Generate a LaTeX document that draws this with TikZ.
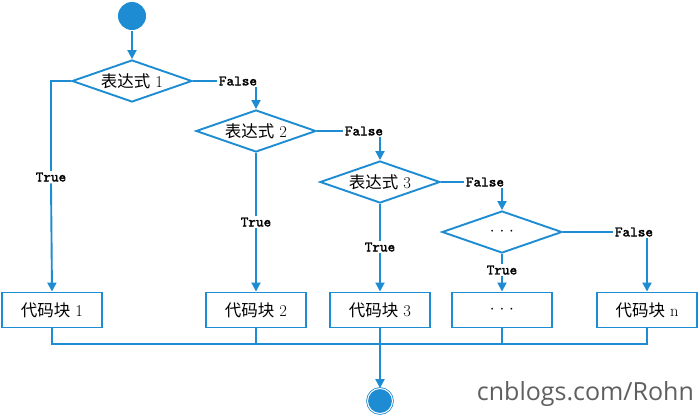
\documentclass[tikz,border=0pt]{standalone}
\usepackage{fontspec}
\newfontfamily\cjk{Noto Sans CJK SC}
\newfontfamily\markfont{Open Sans}
\newfontfamily\monofont{lmmono10-regular.otf}[FakeBold=2]
\usetikzlibrary{arrows.meta,shapes.geometric}
\definecolor{flowblue}{RGB}{30,140,210}
\definecolor{markgray}{RGB}{95,95,95}

\begin{document}
\begin{tikzpicture}[x=1pt,y=-1pt,line width=1.9pt,
  every node/.style={font=\fontsize{16.5}{18}\selectfont},
  cond/.style={diamond,draw=flowblue,aspect=2.86,minimum width=120pt,minimum height=42pt,inner sep=1pt},
  block/.style={rectangle,draw=flowblue,minimum width=100pt,minimum height=35pt,inner sep=1pt},
  lbl/.style={font=\monofont\fontsize{14.5}{16}\selectfont,inner sep=1pt},
  flow/.style={draw=flowblue,-{Triangle[length=9pt,width=9pt]}},
  link/.style={draw=flowblue}]
\useasboundingbox (0,0) rectangle (700,416);
\node[circle,fill=flowblue,minimum size=28pt,inner sep=0] (start) at (132,16) {};
\node[cond] (c1) at (132,81) {{\cjk 表达式} 1};
\node[cond] (c2) at (256,131) {{\cjk 表达式} 2};
\node[cond] (c3) at (380,182) {{\cjk 表达式} 3};
\node[cond] (c4) at (502,232) {$\cdot\kern1pt\cdot\kern1pt\cdot$};
\node[block] (b1) at (52,310) {{\cjk 代码块} 1};
\node[block] (b2) at (256,310) {{\cjk 代码块} 2};
\node[block] (b3) at (380,310) {{\cjk 代码块} 3};
\node[block] (b4) at (502,310) {$\cdot\kern1pt\cdot\kern1pt\cdot$};
\node[block] (bn) at (647,310) {{\cjk 代码块} n};
\node[lbl] (t1) at (51,177) {True};
\node[lbl] (t2) at (256,222) {True};
\node[lbl] (t3) at (380,247) {True};
\node[lbl] (t4) at (502,270) {True};
\node[lbl] (f1) at (238,81) {False};
\node[lbl] (f2) at (364,131) {False};
\node[lbl] (f3) at (485,182) {False};
\node[lbl] (f4) at (634,232) {False};
\node[circle,fill=flowblue,draw=flowblue,double=white,double distance=1pt,line width=0.8pt,minimum size=25pt,inner sep=0] (stop) at (380,401) {};
\coordinate (join) at (380,344);
\node[font=\markfont\fontsize{25}{30}\selectfont,text=markgray,anchor=base west,inner sep=0] (mark) at (476,400) {cnblogs.com/Rohn};

\draw[flow] (start) -- (c1.north);
\draw[link] (c1.west) -| (t1.north);
\draw[flow] (t1.south) -- (b1.north);
\draw[link] (c1.east) -- (f1.west);
\draw[flow] (f1.south -| c2.north) -- (c2.north);
\draw[link] (c2.south) -- (t2.north);
\draw[flow] (t2.south) -- (b2.north);
\draw[link] (c2.east) -- (f2.west);
\draw[flow] (f2.south -| c3.north) -- (c3.north);
\draw[link] (c3.south) -- (t3.north);
\draw[flow] (t3.south) -- (b3.north);
\draw[link] (c3.east) -- (f3.west);
\draw[flow] (f3.south -| c4.north) -- (c4.north);
\draw[link] (c4.south) -- (t4.north);
\draw[flow] (t4.south) -- (b4.north);
\draw[link] (c4.east) -- (f4.west);
\draw[flow] (f4.south -| bn.north) -- (bn.north);
\draw[link] (b1.south) |- (join) -| (bn.south);
\draw[link] (b2.south) -- (b2.south |- join);
\draw[link] (b4.south) -- (b4.south |- join);
\draw[flow] (b3.south) -- (stop);
\end{tikzpicture}
\end{document}
